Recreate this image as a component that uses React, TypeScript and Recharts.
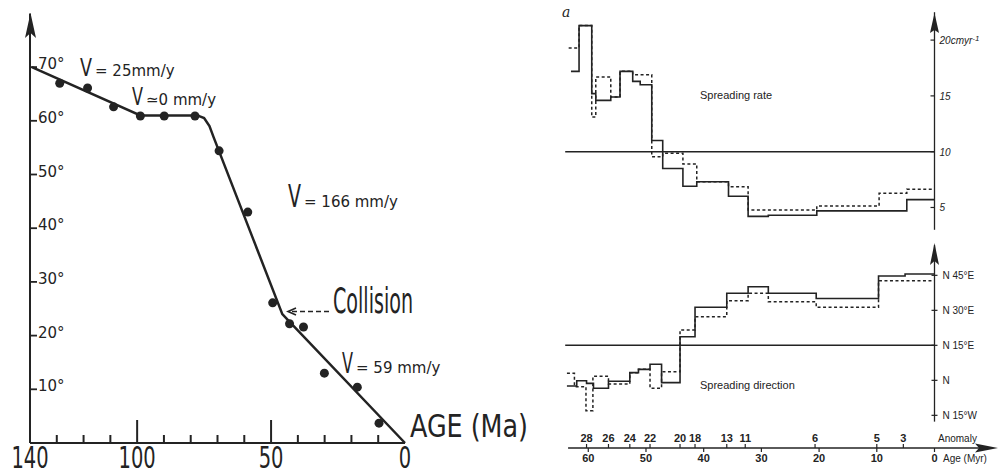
import React from 'react';
import { ComposedChart, Line, Scatter, XAxis, YAxis, ReferenceLine } from 'recharts';

const INK = '#232323';
const NARROW = "'Liberation Sans Narrow', 'DejaVu Sans Condensed', 'DejaVu Sans', sans-serif";
const ROUND = "'DejaVu Sans', 'Noto Sans', sans-serif";
const PLAIN = "'Liberation Sans', 'Noto Sans', sans-serif";

// left panel: palaeolatitude against age (Ma)
const obsAge = [128.9, 118.5, 108.8, 98.8, 89.9, 78.4, 69.4, 58.7, 49.4, 43.1, 37.9, 30.1, 17.8, 9.7];
const obsLat = [67.0, 66.1, 62.6, 60.9, 60.9, 60.9, 54.4, 43.0, 26.1, 22.2, 21.6, 13.0, 10.4, 3.7];
const fitAge = [139.3, 98.8, 77.5, 75, 73, 71.5, 45.8, 43.5, 0];
const fitLat = [70, 61, 61, 60.5, 59, 57, 24, 22.8, 0];
const latTicks = [10, 20, 30, 40, 50, 60, 70];
const leftAgeTicks = [140, 130, 120, 110, 100, 90, 80, 70, 60, 50, 40, 30, 20, 10, 0];
const leftAgeLabels = [140, 100, 50, 0];
const leftAgeMajor = [100, 50];

// right panel, top: spreading rate (cm/yr), step starts in Myr
const rateSolidAge = [63.0, 61.6, 59.4, 58.7, 56.1, 54.5, 52.3, 51.0, 49.0, 47.1, 43.6, 41.2, 35.7, 32.3, 28.8, 20.4, 4.8, 0];
const rateSolidVal = [17.2, 21.3, 15.2, 14.6, 14.9, 17.2, 16.3, 16.0, 11.0, 8.5, 6.9, 7.3, 6.0, 4.2, 4.3, 4.7, 5.7, 5.7];
const rateDashAge = [63.4, 61.6, 59.4, 58.7, 56.1, 54.5, 52.3, 49.0, 47.1, 43.6, 41.2, 35.7, 32.3, 20.4, 9.6, 4.8, 0];
const rateDashVal = [19.3, 21.3, 13.1, 16.7, 14.9, 17.2, 16.9, 9.55, 9.86, 8.9, 7.3, 6.86, 4.78, 5.13, 6.27, 6.63, 6.63];
const rateTicks = [5, 10, 15, 20];

// right panel, bottom: spreading direction (degrees east of north)
const dirSolidAge = [63.7, 62.0, 60.3, 59.1, 56.5, 52.8, 51.3, 49.3, 47.3, 44.1, 41.5, 36.0, 32.3, 28.8, 20.5, 9.7, 5.1, 0];
const dirSolidVal = [-2.4, -0.2, -1.3, -3.4, -0.4, 3.3, 4.7, 6.9, -1.0, 18.7, 31.3, 37.3, 40.1, 37.3, 35.1, 44.7, 45.6, 45.6];
const dirDashAge = [63.7, 62.4, 60.4, 59.2, 56.5, 52.8, 51.3, 49.3, 47.3, 44.1, 41.5, 36.0, 32.3, 28.8, 20.5, 9.7, 0];
const dirDashVal = [3.0, -2.7, -13.0, 1.8, -1.6, 3.3, 4.7, -3.4, 3.7, 21.6, 27.3, 34.1, 37.3, 33.7, 31.3, 42.7, 42.7];
const dirTicks = [-15, 0, 15, 30, 45];
const dirTickLabels = ['N 15°W', 'N', 'N 15°E', 'N 30°E', 'N 45°E'];

const ageTicks = [60, 50, 40, 30, 20, 10, 0];
const anomalyNames = ['28', '26', '24', '22', '20', '18', '13', '11', '6', '5', '3'];
const anomalyAges = [60.3, 56.5, 52.8, 49.3, 44.1, 41.5, 36.0, 32.8, 20.7, 10.0, 5.4];

const DIR_MIN = -29;

const obsData = obsAge.map((age, i) => ({ age, lat: obsLat[i] }));
const fitData = fitAge.map((age, i) => ({ age, lat: fitLat[i] }));
const rateSolid = rateSolidAge.map((age, i) => ({ age, rate: rateSolidVal[i] }));
const rateDash = rateDashAge.map((age, i) => ({ age, rate: rateDashVal[i] }));
const dirSolid = dirSolidAge.map((age, i) => ({ age, dir: dirSolidVal[i] }));
const dirDash = dirDashAge.map((age, i) => ({ age, dir: dirDashVal[i] }));
const anomalies = anomalyAges.map((age, i) => ({ age, dir: DIR_MIN, name: anomalyNames[i] }));

function LeftAgeTick({ x, y, payload }: any) {
  const v = payload.value;
  const s = String(v);
  const len = leftAgeMajor.includes(v) ? 23 : v === 140 || v === 0 ? 0 : 8;
  return (
    <g>
      {len > 0 && <line x1={x} x2={x} y1={y} y2={y - len} stroke={INK} strokeWidth={2} />}
      {leftAgeLabels.includes(v) && (
        <text x={x} y={y + 25} textAnchor="middle" fontFamily={NARROW} fontSize={30} fill={INK}
          textLength={12.4 * s.length} lengthAdjust="spacingAndGlyphs">{s}</text>
      )}
    </g>
  );
}

function LatTick({ x, y, payload }: any) {
  return (
    <g>
      <line x1={x} x2={x + 7} y1={y} y2={y} stroke={INK} strokeWidth={1.8} />
      <text x={x + 8} y={y + 2} fontFamily={ROUND} fontSize={15} fill={INK}>{payload.value}°</text>
    </g>
  );
}

function RateTick({ x, y, payload }: any) {
  const v = payload.value;
  return (
    <g>
      <line x1={x - 4} x2={x} y1={y} y2={y} stroke={INK} strokeWidth={1.2} />
      <text x={x + 5} y={y + 4} fontFamily={PLAIN} fontStyle="italic" fontSize={10} fill={INK}>
        {v}
        {v === 20 && 'cmyr'}
        {v === 20 && <tspan dy={-3} fontSize={8}>-1</tspan>}
      </text>
    </g>
  );
}

function DirTick({ x, y, payload }: any) {
  const i = dirTicks.indexOf(payload.value);
  return (
    <g>
      <line x1={x - 3} x2={x + 3} y1={y} y2={y} stroke={INK} strokeWidth={1.2} />
      <text x={x + 8} y={y + 4} fontFamily={PLAIN} fontSize={10} fill={INK}>{dirTickLabels[i]}</text>
    </g>
  );
}

function AgeTick({ x, y, payload }: any) {
  return (
    <g>
      <line x1={x} x2={x} y1={y} y2={y + 4} stroke={INK} strokeWidth={1.2} />
      <text x={x} y={y + 14} textAnchor="middle" fontFamily={PLAIN} fontWeight="bold" fontSize={11} fill={INK}>
        {payload.value}
      </text>
    </g>
  );
}

function AnomalyMark(p: any) {
  return (
    <g>
      <line x1={p.cx} x2={p.cx} y1={p.cy - 4} y2={p.cy} stroke={INK} strokeWidth={1.2} />
      <text x={p.cx} y={p.cy - 6} textAnchor="middle" fontFamily={PLAIN} fontWeight="bold" fontSize={11} fill={INK}>
        {p.payload.name}
      </text>
    </g>
  );
}

function Dot(p: any) {
  return <circle cx={p.cx} cy={p.cy} r={4.5} fill={INK} />;
}

function LeftChart() {
  return (
    <ComposedChart width={540} height={475} margin={{ top: 13.4, right: 135, bottom: 0, left: 0 }}>
      <XAxis type="number" dataKey="age" domain={[0, 140]} reversed ticks={leftAgeTicks} interval={0}
        height={32} tickSize={0} tickMargin={0} tick={<LeftAgeTick />}
        axisLine={{ stroke: INK, strokeWidth: 2 }} />
      <YAxis type="number" dataKey="lat" domain={[0, 80]} ticks={latTicks} interval={0} width={30}
        tickSize={0} tickMargin={0} tick={<LatTick />} axisLine={{ stroke: INK, strokeWidth: 2 }} />
      <Line data={fitData} dataKey="lat" type="linear" stroke={INK} strokeWidth={2.5} dot={false}
        isAnimationActive={false} />
      <Scatter data={obsData} dataKey="lat" shape={Dot} isAnimationActive={false} />
    </ComposedChart>
  );
}

function RateChart() {
  return (
    <ComposedChart width={461} height={240} margin={{ top: 12.2, right: 0, bottom: 10.2, left: 25.2 }}>
      <XAxis type="number" dataKey="age" domain={[0, 64]} reversed hide />
      <YAxis type="number" dataKey="rate" orientation="right" domain={[3, 22.5]} ticks={rateTicks}
        interval={0} width={66.5} tickSize={0} tickMargin={0} tick={<RateTick />}
        axisLine={{ stroke: INK, strokeWidth: 1.3 }} />
      <ReferenceLine y={10} stroke={INK} strokeWidth={1.5} />
      <Line data={rateSolid} dataKey="rate" type="stepAfter" stroke={INK} strokeWidth={1.6} dot={false}
        isAnimationActive={false} />
      <Line data={rateDash} dataKey="rate" type="stepAfter" stroke={INK} strokeWidth={1.5}
        strokeDasharray="3 2.5" dot={false} isAnimationActive={false} />
    </ComposedChart>
  );
}

function DirChart() {
  return (
    <ComposedChart width={461} height={240} margin={{ top: 10, right: 0, bottom: 0, left: 25.2 }}>
      <XAxis type="number" dataKey="age" domain={[0, 64]} reversed ticks={ageTicks} interval={0}
        height={27} tickSize={0} tickMargin={0} tick={<AgeTick />} axisLine={false} />
      <YAxis type="number" dataKey="dir" orientation="right" domain={[DIR_MIN, 58]} ticks={dirTicks}
        interval={0} width={66.5} tickSize={0} tickMargin={0} tick={<DirTick />} axisLine={false} />
      <ReferenceLine segment={[{ x: 0, y: -17.7 }, { x: 0, y: 58 }]} stroke={INK} strokeWidth={1.3}
        ifOverflow="visible" />
      <ReferenceLine segment={[{ x: 63.5, y: DIR_MIN }, { x: -8, y: DIR_MIN }]} stroke={INK}
        strokeWidth={1.4} ifOverflow="visible" />
      <ReferenceLine y={15} stroke={INK} strokeWidth={1.5} />
      <Line data={dirSolid} dataKey="dir" type="stepAfter" stroke={INK} strokeWidth={1.6} dot={false}
        isAnimationActive={false} />
      <Line data={dirDash} dataKey="dir" type="stepAfter" stroke={INK} strokeWidth={1.5}
        strokeDasharray="3 2.5" dot={false} isAnimationActive={false} />
      <Scatter data={anomalies} dataKey="dir" shape={AnomalyMark} isAnimationActive={false} />
    </ComposedChart>
  );
}

function Annotations() {
  // tall narrow "V" followed by the rate, kept as one text
  const rate = (x: number, y: number, size: number, w: number, s: string) => (
    <text x={x} y={y} fill={INK}>
      <tspan fontFamily={NARROW} fontSize={size} textLength={w} lengthAdjust="spacingAndGlyphs">V</tspan>
      <tspan fontFamily={ROUND} fontSize={15} dx={3}>{s}</tspan>
    </text>
  );
  return (
    <svg width={1001} height={475} style={{ position: 'absolute', left: 0, top: 0, pointerEvents: 'none' }}>
      {/* axis arrowheads */}
      <polygon points="30.5,13 25,38 30.5,33 36,38" fill={INK} />
      <polygon points="934.5,13 930,33 934.5,30 939,33" fill={INK} />
      <polygon points="934.5,243 930,265 934.5,261 939,265" fill={INK} />
      <polygon points="998,448 975,443.5 979,448 975,452.5" fill={INK} />

      {rate(80, 76, 25, 12, '= 25mm/y')}
      {rate(132, 105, 25, 11, '≃0 mm/y')}
      {rate(288, 207, 32, 13, '= 166 mm/y')}
      {rate(342, 373, 28, 11, '= 59 mm/y')}

      <text x={333} y={313} fontFamily={NARROW} fontSize={35} fill={INK} textLength={80}
        lengthAdjust="spacingAndGlyphs">Collision</text>
      <line x1={292} x2={330} y1={311.5} y2={311.5} stroke={INK} strokeWidth={1.6} strokeDasharray="5 3" />
      <polyline points="296,308 288,311.5 296,315" fill="none" stroke={INK} strokeWidth={1.6} />

      <text x={410} y={437} fontFamily={NARROW} fontSize={32} fill={INK} textLength={118}
        lengthAdjust="spacingAndGlyphs">AGE (Ma)</text>

      <text x={562} y={17} fontFamily="'DejaVu Serif', serif" fontStyle="italic" fontSize={14} fill={INK}>a</text>
      <text x={700} y={99} fontFamily={PLAIN} fontSize={11} fill={INK}>Spreading rate</text>
      <text x={700} y={389} fontFamily={PLAIN} fontSize={11} fill={INK}>Spreading direction</text>
      <text x={938} y={442} fontFamily={PLAIN} fontSize={10} fill={INK}>Anomaly</text>
      <text x={943} y={462} fontFamily={PLAIN} fontSize={10} fill={INK}>Age (Myr)</text>
    </svg>
  );
}

export default function App() {
  return (
    <div style={{ position: 'absolute', left: 0, top: 0, width: 1001, height: 475, background: '#fff' }}>
      <div style={{ position: 'absolute', left: 0, top: 0 }}>
        <LeftChart />
      </div>
      <div style={{ position: 'absolute', left: 540, top: 0 }}>
        <RateChart />
      </div>
      <div style={{ position: 'absolute', left: 540, top: 235 }}>
        <DirChart />
      </div>
      <Annotations />
    </div>
  );
}
